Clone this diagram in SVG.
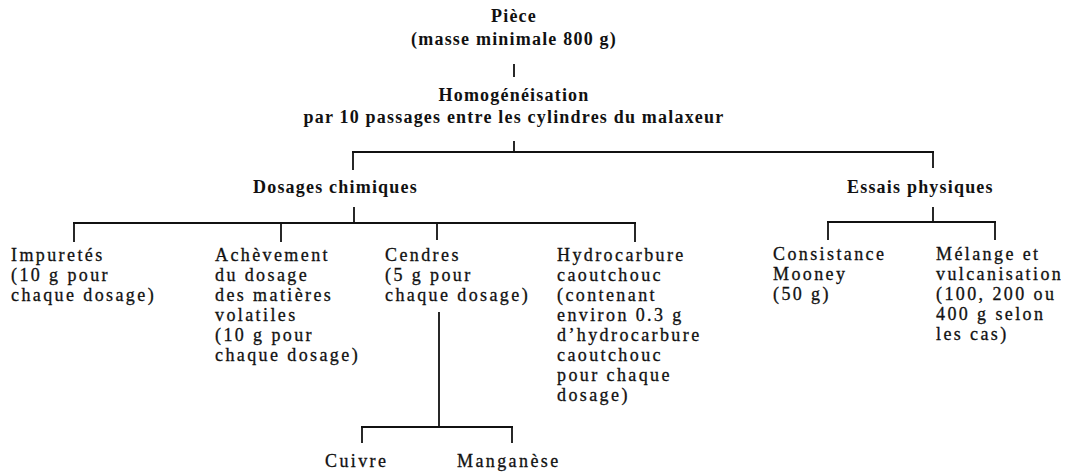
<svg xmlns="http://www.w3.org/2000/svg" width="1065" height="474" viewBox="0 0 1065 474">
<style>
.b{font-family:"Liberation Serif","Times New Roman",serif;font-weight:bold;font-size:18px;letter-spacing:1.2px;fill:#111}
.t{font-family:"Liberation Serif","Times New Roman",serif;font-size:18px;letter-spacing:2.4px;fill:#111;stroke:#111;stroke-width:0.3}
.c{text-anchor:middle}
#connectors line{stroke:#111;stroke-width:1.8;fill:none}
</style>
<rect width="1065" height="474" fill="#fff"/>
<g id="connectors">
<line x1="514" y1="64" x2="514" y2="77"/>
<line x1="514" y1="141" x2="514" y2="152"/>
<line x1="352" y1="152" x2="934" y2="152"/>
<line x1="353" y1="151" x2="353" y2="170"/>
<line x1="933" y1="151" x2="933" y2="168"/>
<line x1="354" y1="207" x2="354" y2="223"/>
<line x1="73" y1="223" x2="636" y2="223"/>
<line x1="74" y1="222" x2="74" y2="242"/>
<line x1="281" y1="223" x2="281" y2="242"/>
<line x1="437" y1="223" x2="437" y2="240"/>
<line x1="635" y1="222" x2="635" y2="242"/>
<line x1="933" y1="207" x2="933" y2="222"/>
<line x1="827" y1="222" x2="996" y2="222"/>
<line x1="828" y1="221" x2="828" y2="240"/>
<line x1="995" y1="221" x2="995" y2="240"/>
<line x1="439" y1="312" x2="439" y2="427"/>
<line x1="361" y1="427" x2="513" y2="427"/>
<line x1="362" y1="426" x2="362" y2="443"/>
<line x1="512" y1="426" x2="512" y2="443"/>
</g>
<g id="piece"><text class="b c" x="514" y="22">Pièce</text><text class="b c" x="514" y="45">(masse minimale 800 g)</text></g>
<g id="homogeneisation"><text class="b c" x="514" y="101">Homogénéisation</text><text class="b c" x="514" y="123">par 10 passages entre les cylindres du malaxeur</text></g>
<g id="dosages"><text class="b" x="253" y="193">Dosages chimiques</text></g>
<g id="essais"><text class="b" x="847" y="193">Essais physiques</text></g>
<g id="impuretes"><text class="t" x="11" y="261">Impuretés</text><text class="t" x="11" y="281">(10 g pour</text><text class="t" x="11" y="301">chaque dosage)</text></g>
<g id="achevement"><text class="t" x="215" y="261">Achèvement</text><text class="t" x="215" y="281">du dosage</text><text class="t" x="215" y="301">des matières</text><text class="t" x="215" y="321">volatiles</text><text class="t" x="215" y="341">(10 g pour</text><text class="t" x="215" y="361">chaque dosage)</text></g>
<g id="cendres"><text class="t" x="385" y="261">Cendres</text><text class="t" x="385" y="281">(5 g pour</text><text class="t" x="385" y="301">chaque dosage)</text></g>
<g id="hydrocarbure"><text class="t" x="557" y="261">Hydrocarbure</text><text class="t" x="557" y="281">caoutchouc</text><text class="t" x="557" y="301">(contenant</text><text class="t" x="557" y="321">environ 0.3 g</text><text class="t" x="557" y="341">d’hydrocarbure</text><text class="t" x="557" y="361">caoutchouc</text><text class="t" x="557" y="381">pour chaque</text><text class="t" x="557" y="401">dosage)</text></g>
<g id="consistance"><text class="t" x="773" y="260">Consistance</text><text class="t" x="773" y="280">Mooney</text><text class="t" x="773" y="300">(50 g)</text></g>
<g id="melange"><text class="t" x="936" y="260">Mélange et</text><text class="t" x="936" y="280">vulcanisation</text><text class="t" x="936" y="300">(100, 200 ou</text><text class="t" x="936" y="320">400 g selon</text><text class="t" x="936" y="340">les cas)</text></g>
<g id="cuivre"><text class="t" x="325" y="467">Cuivre</text></g>
<g id="manganese"><text class="t" x="457" y="467">Manganèse</text></g>
</svg>
